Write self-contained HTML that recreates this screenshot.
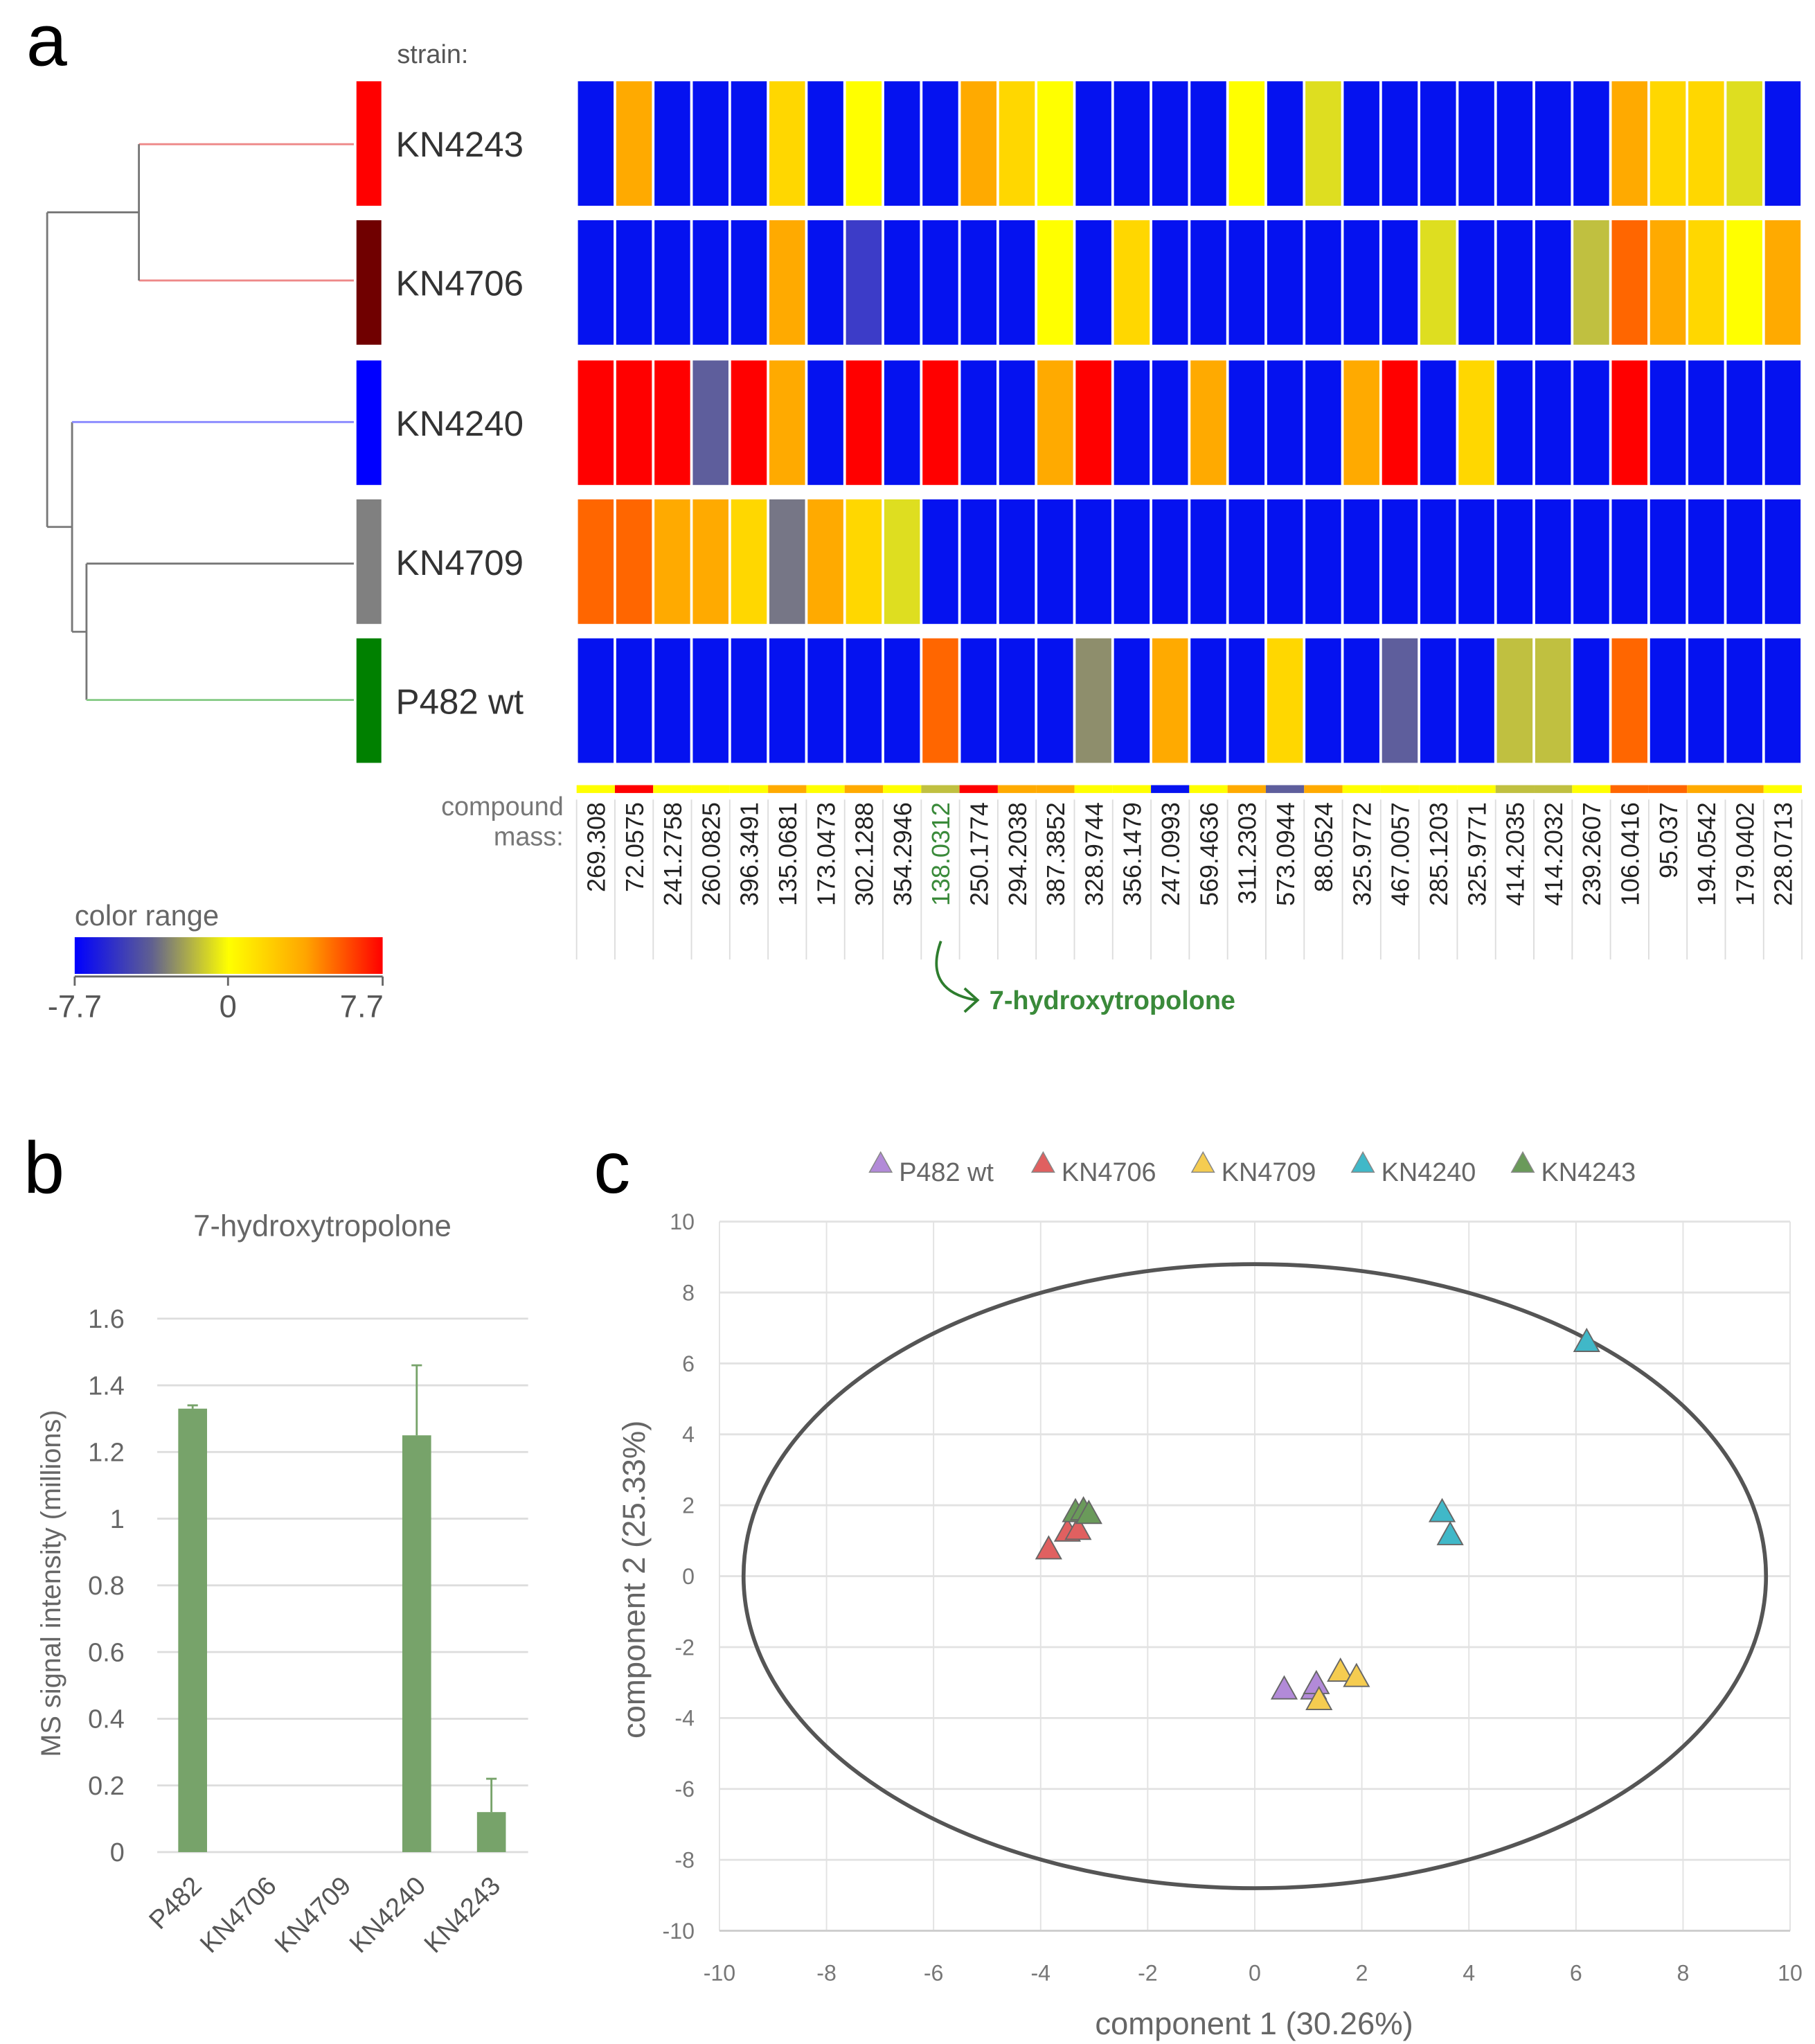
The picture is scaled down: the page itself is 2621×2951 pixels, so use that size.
<!DOCTYPE html>
<html><head><meta charset="utf-8"><style>
html,body{margin:0;padding:0;background:#fff;}
svg{display:block;font-family:"Liberation Sans",sans-serif;}
</style></head><body>
<svg id="fig" width="2621" height="2951" viewBox="0 0 1385 1559.4" preserveAspectRatio="none">
<rect width="1385" height="1560" fill="#fff"/>
<text x="20" y="50" font-size="56" fill="#000">a</text>
<text x="18" y="910" font-size="56" fill="#000">b</text>
<text x="453" y="910" font-size="56" fill="#000">c</text>
<text x="303" y="48" font-size="20" fill="#555">strain:</text>
<g id="dendro" fill="none" stroke-width="1.5">
<path d="M106 110H270M106 214H270" stroke="#e88"/>
<path d="M106 110V214M36 162H106M36 162V402M36 402H55M55 322V482M55 482H66M66 430V534M66 430H270" stroke="#777"/>
<path d="M55 322H270" stroke="#88f"/>
<path d="M66 534H270" stroke="#8c8"/>
</g>
<g id="heat"></g>
<g id="labels"></g>
<text x="430" y="622" font-size="20" fill="#777" text-anchor="end">compound</text>
<text x="430" y="645" font-size="20" fill="#777" text-anchor="end">mass:</text>
<path d="M718 718 C710 740,715 758,745 763 M736 754 L746 763 L736 772" fill="none" stroke="#2e7d2e" stroke-width="2"/>
<text x="755" y="770" font-size="20" font-weight="bold" fill="#3a8a3a">7-hydroxytropolone</text>
<defs><linearGradient id="cg" x1="0" x2="1"><stop offset="0" stop-color="#0000ff"/><stop offset="0.25" stop-color="#606090"/><stop offset="0.5" stop-color="#ffff00"/><stop offset="0.75" stop-color="#ffa500"/><stop offset="1" stop-color="#ff0000"/></linearGradient></defs>
<text x="57" y="706" font-size="22" fill="#666">color range</text>
<rect x="57" y="715" width="235" height="28" fill="url(#cg)"/>
<path d="M57 745H292M57 745V752M174 745V752M292 745V752" stroke="#666" stroke-width="1.5"/>
<text x="57" y="776" font-size="24" fill="#555" text-anchor="middle">-7.7</text>
<text x="174" y="776" font-size="24" fill="#555" text-anchor="middle">0</text>
<text x="276" y="776" font-size="24" fill="#555" text-anchor="middle">7.7</text>
<g id="bar"></g>
<g id="sc"></g>
</svg>
<script>
const NS="http://www.w3.org/2000/svg";
function mk(p,t,a,txt){const e=document.createElementNS(NS,t);for(const k in a)e.setAttribute(k,a[k]);if(txt!==undefined)e.textContent=txt;p.appendChild(e);return e;}
// ---- heatmap data ----
const strains=["KN4243","KN4706","KN4240","KN4709","P482 wt"];
const strainColors=["#ff0000","#700000","#0000ff","#808080","#008000"];
const masses=["269.308","72.0575","241.2758","260.0825","396.3491","135.0681","173.0473","302.1288","354.2946","138.0312","250.1774","294.2038","387.3852","328.9744","356.1479","247.0993","569.4636","311.2303","573.0944","88.0524","325.9772","467.0057","285.1203","325.9771","414.2035","414.2032","239.2607","106.0416","95.037","194.0542","179.0402","228.0713"];
const cellCodes=[
"BOBBBGBYBBOGYBBBBYBLBBBBBBBOGGLB",
"BBBBBOBMBBBBYBGBBBBBBBLBBBKDOGYO",
"RRRPROBRBRBBORBBOBBBORBGBBBRBBBB",
"DDOOGAOGLBBBBBBBBBBBBBBBBBBBBBBB",
"BBBBBBBBBDBBBNBOBBGBBPBBKKBDBBBB"];
const summaryCodes="YRYYYOYOYKROOYYBYOPOYYYYKKYDDOOY";
const pal={B:"#0512f0",O:"#ffaa00",Y:"#ffff00",G:"#ffd700",L:"#dede20",R:"#ff0000",D:"#ff6600",P:"#5e5e9c",M:"#3c3cc8",K:"#c0c040",A:"#767686",N:"#8e8e6c"};
const hx0=440,hx1=1375,rowTop=[62,168,275,381,487],rowH=95;
const cw=(hx1-hx0)/masses.length;
const heat=document.getElementById('heat'),lab=document.getElementById('labels');
strains.forEach((s,i)=>{
 const sb=mk(heat,'rect',{x:272,y:rowTop[i],width:19,height:rowH,fill:strainColors[i]});
 
 
 const st=mk(heat,'text',{x:302,y:rowTop[i]+rowH/2+10,'font-size':27,fill:'#333'},s);
 
 
 for(let j=0;j<masses.length;j++){
  const c=mk(heat,'rect',{x:hx0+j*cw+1,y:rowTop[i],width:cw-2,height:rowH,fill:pal[cellCodes[i][j]]});
  
  
 }
});
for(let j=0;j<masses.length;j++){
 const x=hx0+j*cw;
 const sr=mk(lab,'rect',{x:x,y:599,width:cw,height:6,fill:pal[summaryCodes[j]]});
 
 
 mk(lab,'line',{x1:x,y1:610,x2:x,y2:732,stroke:'#ddd','stroke-width':1});
 const t=mk(lab,'text',{x:0,y:0,'font-size':19,fill:j==9?'#3a8a3a':'#222','text-anchor':'end',transform:`translate(${x+cw/2+7},612) rotate(-90)`},masses[j]);
 
 
}
mk(lab,'line',{x1:hx1,y1:610,x2:hx1,y2:732,stroke:'#ddd','stroke-width':1});
// ---- bar chart data ----
const barCats=["P482","KN4706","KN4709","KN4240","KN4243"];
const barVals=[1.33,0,0,1.25,0.12];
const barErr=[0.01,0,0,0.21,0.10];
const barTicks=["0","0.2","0.4","0.6","0.8","1","1.2","1.4","1.6"];
const bar=document.getElementById('bar');
const by=v=>1413-v*(1413-1006)/1.6;
const bx=i=>147+i*57;
barTicks.forEach((t,i)=>{const v=i*0.2;
 mk(bar,'line',{x1:120,x2:403,y1:by(v),y2:by(v),stroke:'#ddd','stroke-width':1.5});
 const tt=mk(bar,'text',{x:95,y:by(v)+7,'font-size':20,fill:'#666','text-anchor':'end'},t);
 
 
});
barCats.forEach((c,i)=>{
 if(barVals[i]>0){
  const r=mk(bar,'rect',{x:bx(i)-11,y:by(barVals[i]),width:22,height:by(0)-by(barVals[i]),fill:'#77a36a'});
  
  
  const e=barVals[i]+barErr[i];
  mk(bar,'path',{d:`M${bx(i)} ${by(barVals[i])}V${by(e)}M${bx(i)-4} ${by(e)}H${bx(i)+4}`,stroke:'#77a36a','stroke-width':1.5,fill:'none'});
 }
 const t=mk(bar,'text',{x:0,y:0,'font-size':20,fill:'#555','text-anchor':'end',transform:`translate(${bx(i)+8},1440) rotate(-45)`},c);
 
 
});
const bt=mk(bar,'text',{x:246,y:943,'font-size':23,fill:'#666','text-anchor':'middle'},'7-hydroxytropolone');


const byt=mk(bar,'text',{x:0,y:0,'font-size':21,fill:'#666','text-anchor':'middle',transform:'translate(46,1208) rotate(-90)'},'MS signal intensity (millions)');


// ---- scatter data ----
const seriesNames=["P482 wt","KN4706","KN4709","KN4240","KN4243"];
const seriesColors=["#b28ad8","#e06060","#f5cc50","#40b8c8","#6a9a5a"];
const xP482=[0.55,1.1,1.15],yP482=[-3.2,-3.2,-3.05];
const x4706=[-3.85,-3.5,-3.3],y4706=[0.75,1.25,1.3];
const x4709=[1.6,1.9,1.2],y4709=[-2.7,-2.85,-3.5];
const x4240=[6.2,3.5,3.65],y4240=[6.6,1.8,1.15];
const x4243=[-3.35,-3.2,-3.1],y4243=[1.8,1.85,1.75];
const axisTicks=[-10,-8,-6,-4,-2,0,2,4,6,8,10];
const ellipseR=[9.55,8.8];
const sc=document.getElementById('sc');
const sx=v=>549+(v+10)*(1366-549)/20, sy=v=>1473-(v+10)*(1473-932)/20;
axisTicks.forEach(t=>{
 mk(sc,'line',{x1:sx(t),x2:sx(t),y1:932,y2:1473,stroke:'#e2e2e2','stroke-width':1});
 mk(sc,'line',{x1:549,x2:1366,y1:sy(t),y2:sy(t),stroke:'#e2e2e2','stroke-width':1.5});
 const a=mk(sc,'text',{x:530,y:sy(t)+6,'font-size':17,fill:'#777','text-anchor':'end'},t);
 
 
 const b=mk(sc,'text',{x:sx(t),y:1511,'font-size':17,fill:'#777','text-anchor':'middle'},t);
 
 
});
mk(sc,'line',{x1:549,x2:1366,y1:sy(-10),y2:sy(-10),stroke:'#ccc','stroke-width':1.5});
const el=mk(sc,'ellipse',{cx:sx(0),cy:sy(0),rx:sx(ellipseR[0])-sx(0),ry:sy(0)-sy(ellipseR[1]),fill:'none',stroke:'#555','stroke-width':3});


const seriesX=[xP482,x4706,x4709,x4240,x4243],seriesY=[yP482,y4706,y4709,y4240,y4243];
const tri=(x,y,s)=>`M${x} ${y-s}L${x+s*0.95} ${y+s*0.7}L${x-s*0.95} ${y+s*0.7}Z`;
seriesNames.forEach((n,k)=>{
 seriesX[k].forEach((v,i)=>{
  const p=mk(sc,'path',{d:tri(sx(v),sy(seriesY[k][i]),10),fill:seriesColors[k],stroke:'#666','stroke-width':1});
  
  
 });
 const lx=[672,796,918,1040,1162][k];
 const lp=mk(sc,'path',{d:tri(lx,888,9),fill:seriesColors[k],stroke:'#888','stroke-width':0.8});
 
 
 const lt=mk(sc,'text',{x:lx+14,y:901,'font-size':20,fill:'#666'},n);
 
 
});
const xt=mk(sc,'text',{x:957,y:1552,'font-size':24,fill:'#666','text-anchor':'middle'},'component 1 (30.26%)');


const yt=mk(sc,'text',{x:0,y:0,'font-size':24,fill:'#666','text-anchor':'middle',transform:'translate(492,1205) rotate(-90)'},'component 2 (25.33%)');


</script>
</body></html>
